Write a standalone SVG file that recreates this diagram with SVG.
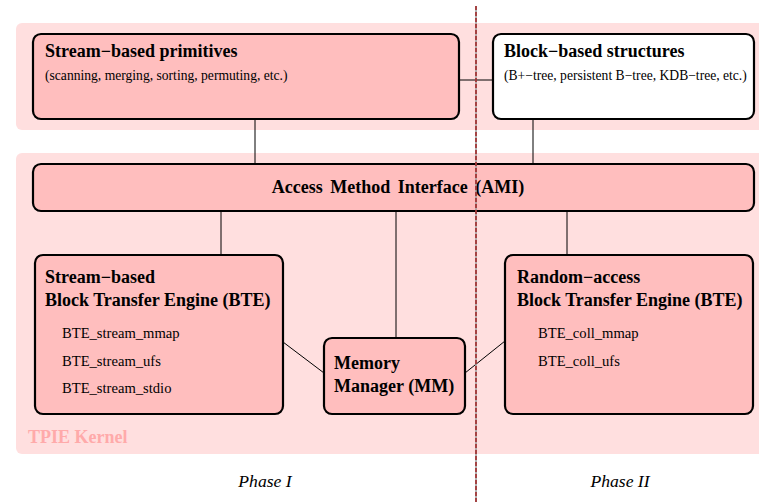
<svg xmlns="http://www.w3.org/2000/svg" width="759" height="502" viewBox="0 0 759 502">
<style>
.panel{fill:#ffdfdf}
.box{fill:#ffbebe;stroke:#000;stroke-width:2.2}
.white{fill:#fff;stroke:#000;stroke-width:2.2}
.conn line{stroke:#000;stroke-width:1}
.t{font-family:"Liberation Serif","Times New Roman",serif;fill:#000}
.b{font-weight:bold;font-size:18px}
.s{font-size:13.6px}
.i{font-size:14.6px}
.ph{font-family:"Liberation Serif","Times New Roman",serif;font-style:italic;font-size:17.6px;fill:#000}
</style>
<rect class="panel" x="16" y="23" width="750" height="107" rx="6"/>
<rect class="panel" x="16" y="153" width="750" height="301" rx="6"/>
<g class="conn">
<line x1="459" y1="80" x2="493" y2="80"/>
<line x1="255" y1="119" x2="255" y2="164"/>
<line x1="533" y1="119" x2="533" y2="164"/>
<line x1="221" y1="211" x2="221" y2="255"/>
<line x1="396" y1="211" x2="396" y2="338"/>
<line x1="567" y1="211" x2="567" y2="255"/>
<line x1="283" y1="342" x2="324" y2="373"/>
<line x1="465" y1="373" x2="505" y2="341"/>
</g>
<g id="stream-primitives">
<rect class="box" x="33" y="34" width="426" height="85" rx="8"/>
<text class="t b" x="45" y="57">Stream−based primitives</text>
<text class="t s" x="45" y="80">(scanning, merging, sorting, permuting, etc.)</text>
</g>
<g id="block-structures">
<rect class="white" x="493" y="34" width="261" height="85" rx="8"/>
<text class="t b" x="504" y="57">Block−based structures</text>
<text class="t s" x="504" y="80">(B+−tree, persistent B−tree, KDB−tree, etc.)</text>
</g>
<g id="ami">
<rect class="box" x="33" y="164" width="721" height="47" rx="8"/>
<text class="t b" x="398" y="193" text-anchor="middle" word-spacing="3">Access Method Interface (AMI)</text>
</g>
<g id="stream-bte">
<rect class="box" x="35" y="255" width="248" height="159" rx="8"/>
<text class="t b" x="45" y="283">Stream−based</text>
<text class="t b" x="45" y="306">Block Transfer Engine (BTE)</text>
<text class="t i" x="62" y="338">BTE_stream_mmap</text>
<text class="t i" x="62" y="366">BTE_stream_ufs</text>
<text class="t i" x="62" y="393">BTE_stream_stdio</text>
</g>
<g id="mm">
<rect class="box" x="324" y="338" width="141" height="76" rx="8"/>
<text class="t b" x="334" y="369">Memory</text>
<text class="t b" x="334" y="392">Manager (MM)</text>
</g>
<g id="random-bte">
<rect class="box" x="505" y="255" width="248" height="159" rx="8"/>
<text class="t b" x="517" y="283">Random−access</text>
<text class="t b" x="517" y="306">Block Transfer Engine (BTE)</text>
<text class="t i" x="538" y="338">BTE_coll_mmap</text>
<text class="t i" x="538" y="366">BTE_coll_ufs</text>
</g>
<text x="28" y="443" font-family="Liberation Serif, serif" font-weight="bold" font-size="18" fill="#ffaaaa">TPIE Kernel</text>
<text class="ph" x="265" y="487" text-anchor="middle">Phase I</text>
<text class="ph" x="620" y="487" text-anchor="middle">Phase II</text>
<line x1="476" y1="6" x2="476" y2="502" stroke="#999" stroke-width="1.5"/>
<line x1="476" y1="6" x2="476" y2="502" stroke="#a02020" stroke-width="1.5" stroke-dasharray="4 2"/>
</svg>
